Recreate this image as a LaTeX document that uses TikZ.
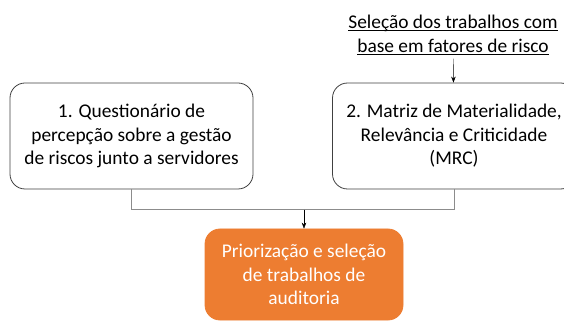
\documentclass[tikz,border=0pt]{standalone}
\usepackage{fontspec}
\setmainfont{Carlito}
\usetikzlibrary{positioning,calc}
\usetikzlibrary{arrows.meta}

\definecolor{laranja}{HTML}{ED7D31}
\definecolor{borda}{HTML}{404040}
\definecolor{cinza}{HTML}{8C8C8C}

\newsavebox{\caixatexto}
\newcommand{\sublinha}[1]{\sbox{\caixatexto}{#1}\rlap{\rule[-2.5pt]{\wd\caixatexto}{0.8pt}}\usebox{\caixatexto}}

\begin{document}
\begin{tikzpicture}[> = {Stealth[length = 6pt, width = 4.5pt]}, x = 1pt, y = 1pt, node distance = 161pt, semithick]
\tikzstyle{caixa}=[
  draw = borda,
  line width = 0.8pt,
  fill = white,
  rounded corners = 15pt,
  minimum width = 243pt,
  minimum height = 106pt,
  align = center,
  font = \fontsize{19.4}{23.5}\selectfont
]
\tikzstyle{destaque}=[
  caixa,
  draw = laranja,
  fill = laranja,
  text = white,
  minimum width = 198pt,
  minimum height = 91pt
]

\useasboundingbox (0,0) rectangle (564,321);

\node[caixa] (Q) at (131.5,185) {1. Questionário de\\percepção sobre a gestão\\de riscos junto a servidores};
\node[caixa] (M) [right of = Q, xshift = 161.5pt] {2. Matriz de Materialidade,\\Relevância e Criticidade\\(MRC)};
\node[align = center, font = \fontsize{19.4}{24}\selectfont] (S) [above of = M, yshift = -60pt, xshift = -1pt] {\sublinha{Seleção dos trabalhos com}\\\sublinha{base em fatores de risco}};
\node[destaque] (P) at (304,46.5) {Priorização e seleção\\de trabalhos de\\auditoria};
\coordinate (J) at ($(P.north)+(0,19)$);

\draw[->, black, thin] (S) -- (M);
\draw[cinza] (Q.south) |- (J) -| (M.south);
\draw[->, black, thin] (J) -- (P);
\end{tikzpicture}
\end{document}
